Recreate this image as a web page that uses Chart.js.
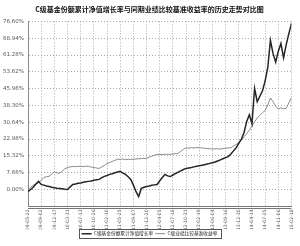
<!DOCTYPE html>
<html>
<head>
<meta charset="utf-8">
<script src="https://cdn.jsdelivr.net/npm/chart.js@4.4.1/dist/chart.umd.min.js"></script>
<style>
  html, body { margin: 0; padding: 0; background: #fff; }
  #wrap { width: 300px; height: 246px; }
</style>
</head>
<body>
<div id="wrap"><canvas id="trendChart" width="300" height="246"></canvas></div>
<script>
'use strict';

// Data
const xTickLabels = [
  '2009-05-22','2009-09-02','2009-12-17','2010-03-31','2010-07-13','2010-10-26',
  '2011-02-10','2011-05-25','2011-09-07','2011-12-20','2012-04-05','2012-07-18',
  '2012-10-31','2013-02-19','2013-06-04','2013-09-16','2013-12-30','2014-04-14',
  '2014-07-25','2014-11-06','2015-02-18'
];
const yTickValues = [-7.66, 0, 7.66, 15.32, 22.98, 30.64, 38.30, 45.96, 53.62, 61.28, 68.94, 76.60];
const yTickLabels = ['', '0.00%', '7.66%', '15.32%', '22.98%', '30.64%', '38.30%', '45.96%', '53.62%', '61.28%', '68.94%', '76.60%'];

const seriesNames = ['C级基金份额累计净值增长率', 'C级业绩比较基准收益率'];

// C级基金份额累计净值增长率 (%)
const fundValues = [
  -1.0, 0.0, 1.0, 2.5, 3.7, 2.3, 2.0, 1.6, 1.4, 1.0,
  0.8, 0.6, 0.5, 0.3, 0.1, 0.0, 1.2, 2.3, 2.5, 2.8,
  3.0, 3.3, 3.5, 3.7, 3.9, 4.2, 4.4, 4.6, 5.4, 6.0,
  6.4, 6.9, 7.2, 7.6, 8.0, 8.3, 7.5, 6.9, 5.8, 4.6,
  2.0, -1.0, -3.2, 0.5, 1.0, 1.4, 1.6, 1.9, 2.1, 2.3,
  4.0, 5.5, 6.9, 6.2, 5.9, 6.6, 7.3, 7.9, 8.5, 9.1,
  9.6, 9.8, 10.0, 10.3, 10.6, 10.8, 11.0, 11.3, 11.6, 11.9,
  12.2, 12.5, 13.0, 13.5, 14.0, 14.5, 15.0, 16.2, 17.6, 19.0,
  21.0, 23.0, 26.0, 31.0, 34.0, 30.0, 46.0, 40.0, 42.5, 45.0,
  49.5, 55.5, 68.0, 62.0, 58.0, 63.0, 66.5, 60.0, 66.0, 71.0,
  75.7
];

// C级业绩比较基准收益率 (%)
const benchValues = [
  0.0, 1.0, 2.0, 2.5, 3.0, 4.2, 5.5, 5.8, 6.0, 7.0,
  8.0, 7.6, 7.3, 8.4, 9.5, 10.0, 10.3, 10.5, 10.4, 10.6,
  10.5, 10.4, 10.6, 10.5, 10.2, 10.0, 9.8, 9.6, 10.3, 11.0,
  11.9, 12.3, 12.8, 13.3, 13.8, 13.7, 13.9, 13.6, 13.8, 13.7,
  13.8, 13.9, 14.0, 14.1, 14.2, 14.2, 14.7, 15.2, 15.6, 16.0,
  16.0, 15.9, 16.1, 16.0, 16.0, 16.2, 16.3, 16.5, 17.4, 18.3,
  19.0, 18.8, 19.1, 18.9, 19.2, 19.0, 19.0, 18.8, 18.7, 18.6,
  18.4, 18.5, 18.6, 18.4, 18.7, 18.8, 19.0, 19.0, 19.8, 20.5,
  21.3, 22.5, 24.0, 25.5, 27.0, 29.0, 30.8, 32.6, 33.8, 35.0,
  36.0, 38.5, 41.7, 40.0, 38.0, 36.7, 37.2, 36.8, 37.0, 39.5,
  41.7
];

const toPoints = (arr) => arr.map((v, i) => ({ x: i, y: v }));
const tickStep = (fundValues.length - 1) / (xTickLabels.length - 1);

// Kotak di sekeliling legenda + garis ganda sumbu bawah
const framePlugin = {
  id: 'framePlugin',
  afterDraw(chart) {
    const ctx = chart.ctx;
    const area = chart.chartArea;
    ctx.save();
    ctx.strokeStyle = '#777';
    ctx.lineWidth = 1;
    ctx.beginPath();
    ctx.moveTo(area.left, Math.round(area.bottom) + 2.5);
    ctx.lineTo(area.right, Math.round(area.bottom) + 2.5);
    ctx.stroke();

    const boxes = chart.legend && chart.legend.legendHitBoxes;
    if (boxes && boxes.length) {
      const left = Math.min(...boxes.map((b) => b.left)) - 3;
      const right = Math.max(...boxes.map((b) => b.left + b.width)) + 3;
      const top = Math.min(...boxes.map((b) => b.top)) - 2;
      const bottom = Math.max(...boxes.map((b) => b.top + b.height)) + 2;
      ctx.strokeStyle = '#555';
      ctx.strokeRect(Math.round(left) + 0.5, Math.round(top) + 0.5, Math.round(right - left), Math.round(bottom - top));
    }
    ctx.restore();
  },
};

(function initTrendChart() {
  const ctx = document.getElementById('trendChart').getContext('2d');

  new Chart(ctx, {
    type: 'line',
    data: {
      datasets: [
        {
          label: seriesNames[0],
          data: toPoints(fundValues),
          borderColor: '#262626',
          backgroundColor: '#262626',
          borderWidth: 1.5,
          pointRadius: 0,
          tension: 0,
        },
        {
          label: seriesNames[1],
          data: toPoints(benchValues),
          borderColor: '#8a8a8a',
          backgroundColor: '#8a8a8a',
          borderWidth: 1,
          pointRadius: 0,
          tension: 0,
        },
      ],
    },
    options: {
      responsive: false,
      animation: false,
      layout: { padding: { left: 2, right: 3, top: 0, bottom: 0 } },
      plugins: {
        title: {
          display: true,
          text: 'C级基金份额累计净值增长率与同期业绩比较基准收益率的历史走势对比图',
          color: '#111',
          font: { family: 'Noto Sans CJK SC', size: 7, weight: 'bold' },
          padding: { top: 5, bottom: 8 },
        },
        legend: {
          position: 'bottom',
          labels: {
            color: '#222',
            font: { family: 'Noto Sans CJK SC', size: 4.7 },
            usePointStyle: true,
            pointStyle: 'line',
            pointStyleWidth: 10,
            padding: 2,
          },
        },
        tooltip: { enabled: false },
      },
      scales: {
        x: {
          type: 'linear',
          min: 0,
          max: fundValues.length - 1,
          afterBuildTicks: (scale) => {
            scale.ticks = xTickLabels.map((_, i) => ({ value: i * tickStep }));
          },
          afterFit: (scale) => { scale.height = 23; },
          grid: { color: '#a8a8a8', lineWidth: 1, drawTicks: false },
          border: { display: true, color: '#777', dash: [1, 2] },
          ticks: {
            color: '#555',
            font: { family: 'DejaVu Sans', size: 4.6 },
            minRotation: 90,
            maxRotation: 90,
            autoSkip: false,
            padding: 3,
            callback: (v) => xTickLabels[Math.round(v / tickStep)],
          },
        },
        y: {
          min: yTickValues[0],
          max: yTickValues[yTickValues.length - 1],
          afterBuildTicks: (scale) => {
            scale.ticks = yTickValues.map((v) => ({ value: v }));
          },
          afterFit: (scale) => { scale.width = 26; },
          grid: { color: '#a8a8a8', lineWidth: 1, drawTicks: false },
          border: { display: true, color: '#888', dash: [1, 2] },
          ticks: {
            color: '#555',
            font: { family: 'DejaVu Sans', size: 5.5 },
            padding: 4,
            callback: (v) => {
              const idx = yTickValues.findIndex((t) => Math.abs(t - v) < 0.001);
              return idx >= 0 ? yTickLabels[idx] : '';
            },
          },
        },
      },
    },
    plugins: [framePlugin],
  });
})();
</script>
</body>
</html>
